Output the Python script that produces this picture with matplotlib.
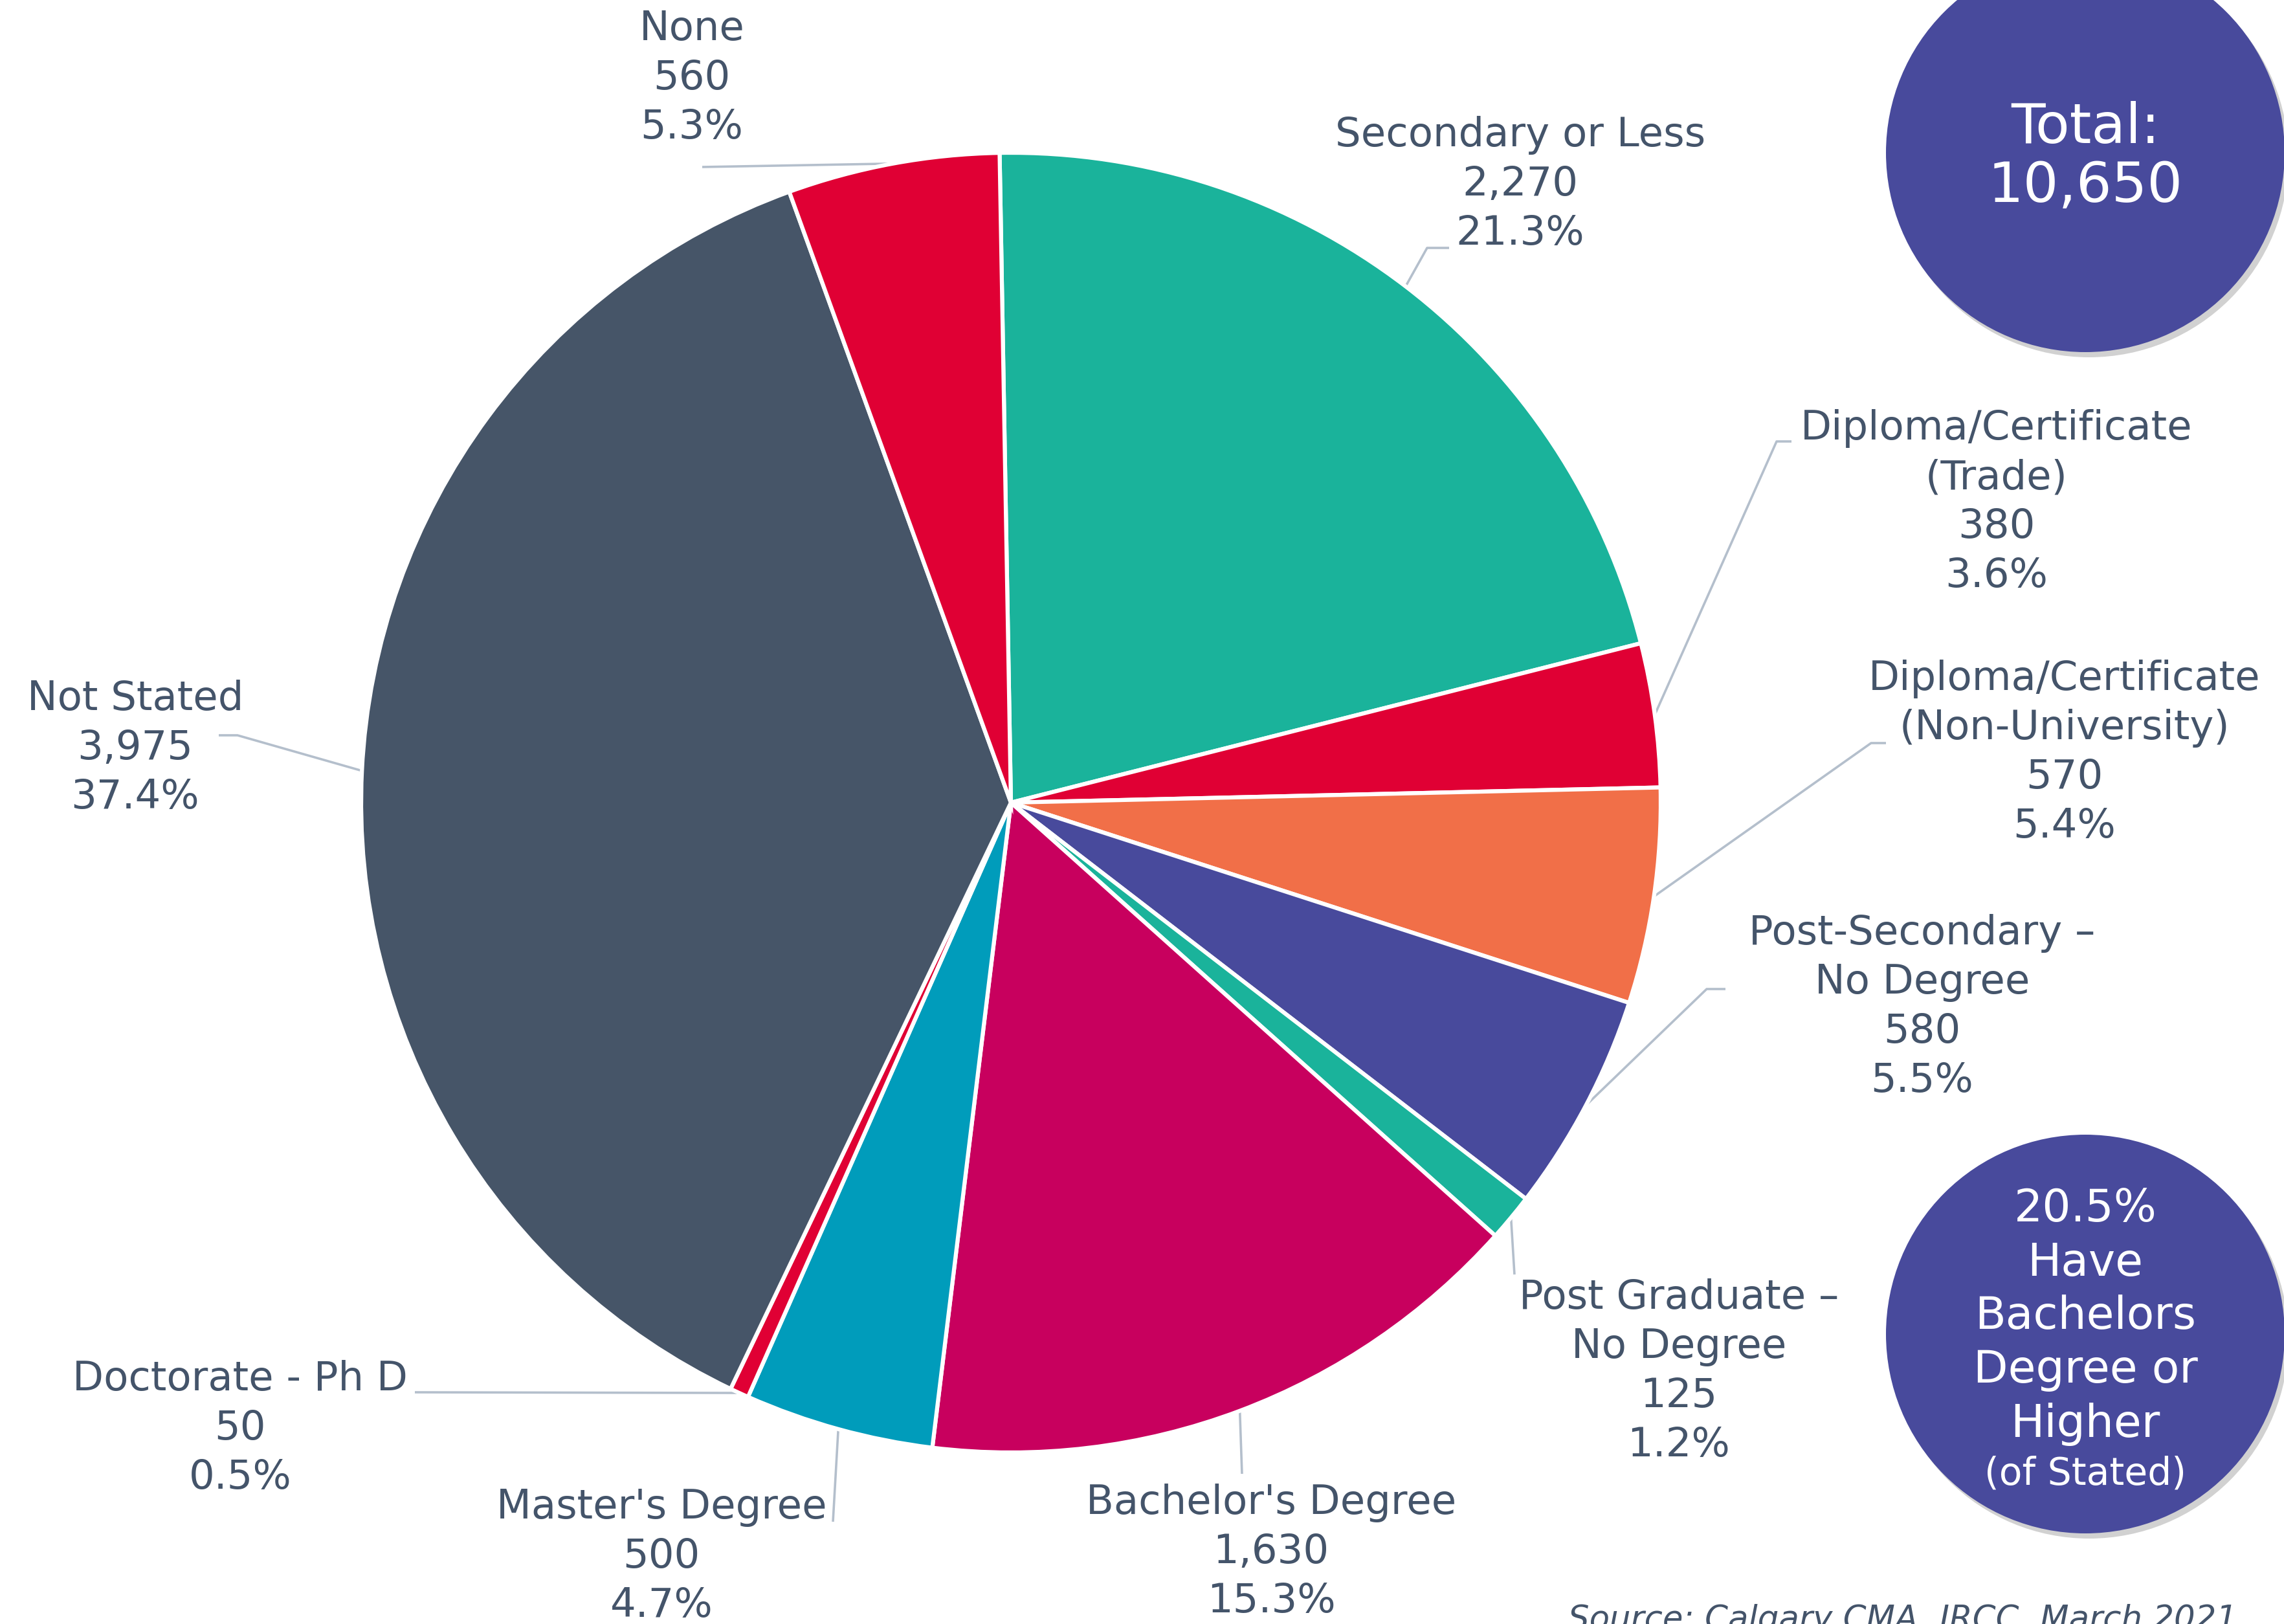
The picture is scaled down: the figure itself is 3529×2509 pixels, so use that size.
import numpy as np
import matplotlib.pyplot as plt
from matplotlib.patches import Circle

# --- datos ---
categorias = ["Secondary or Less", "Diploma/Certificate\n(Trade)",
              "Diploma/Certificate\n(Non-University)", "Post-Secondary –\nNo Degree",
              "Post Graduate –\nNo Degree", "Bachelor's Degree", "Master's Degree",
              "Doctorate - Ph D", "Not Stated", "None"]
valores = [2270, 380, 570, 580, 125, 1630, 500, 50, 3975, 560]
total_mostrado = 10650
porcentaje_bach = 20.5

colores = ['#1ab39b', '#e00034', '#f16f48', '#484a9c', '#1ab39b',
           '#c8005e', '#009cbb', '#e00034', '#465568', '#e00034']

W, H = 3529, 2509
TXT = '#44546a'
LINEA = '#b4bfcc'

# posiciones de etiquetas (px de la imagen, y hacia abajo): centro x, y de la primera linea
pos_etiquetas = [(2349, 209), (3085, 662), (3190, 1049), (2970, 1442), (2594, 2005),
                 (1964, 2322), (1022, 2329), (371, 2131), (209, 1080), (1069, 45)]
# puntos de la linea guia despues del borde del pie
guias = [[(2205, 383), (2239, 383)],
         [(2745, 682), (2768, 682)],
         [(2891, 1148), (2914, 1148)],
         [(2637, 1528), (2666, 1528)],
         [(2340, 1969)],
         [(1919, 2277)],
         [(1287, 2351)],
         [(641, 2151)],
         [(367, 1136), (338, 1136)],
         [(1085, 258)]]

fig = plt.figure(figsize=(W / 100, H / 100), dpi=100)
ax = fig.add_axes([0, 0, 1, 1])
ax.set_xlim(0, W)
ax.set_ylim(0, H)
ax.set_aspect('equal')
ax.axis('off')

cx, cy, r = 1562, H - 1240, 1004
wedges, _ = ax.pie(valores, colors=colores, startangle=91, counterclock=False,
                   center=(cx, cy), radius=r,
                   wedgeprops=dict(edgecolor='white', linewidth=4.5))
ax.set_xlim(0, W)
ax.set_ylim(0, H)

suma = sum(valores)
for i, w in enumerate(wedges):
    ang = np.deg2rad((w.theta1 + w.theta2) / 2)
    x0, y0 = cx + r * np.cos(ang), cy + r * np.sin(ang)
    xs = [x0] + [p[0] for p in guias[i]]
    ys = [y0] + [H - p[1] for p in guias[i]]
    ax.plot(xs, ys, color=LINEA, lw=2.6, solid_capstyle='butt', zorder=0)

    lineas = categorias[i].split('\n') + [f"{valores[i]:,}", f"{valores[i] / suma * 100:.1f}%"]
    lx, ly = pos_etiquetas[i]
    for k, t in enumerate(lineas):
        ax.text(lx, H - (ly + k * 76), t, ha='center', va='center',
                fontsize=45, color=TXT)

# circulos
circ_color = '#484a9c'
for (ccx, ccy) in [(3222, 236), (3222, 2061)]:
    ax.add_patch(Circle((ccx + 6, H - ccy - 8), 308, color='#000000', alpha=0.18, lw=0))
    ax.add_patch(Circle((ccx, H - ccy), 308, color=circ_color, lw=0))

ax.text(3222, H - 198, "Total:", ha='center', va='center', fontsize=62, color='white')
ax.text(3222, H - 288, f"{total_mostrado:,}", ha='center', va='center', fontsize=62, color='white')

lineas_circ = [f"{porcentaje_bach}%", "Have", "Bachelors", "Degree or", "Higher"]
for k, t in enumerate(lineas_circ):
    ax.text(3222, H - (1868 + k * 83), t, ha='center', va='center', fontsize=50, color='white')
ax.text(3222, H - 2277, "(of Stated)", ha='center', va='center', fontsize=42, color='white')

ax.text(2423, H - 2478, "Source: Calgary CMA, IRCC, March 2021", ha='left', va='top',
        fontsize=37, style='italic', color=TXT)

fig.savefig('out.png', dpi=100)
